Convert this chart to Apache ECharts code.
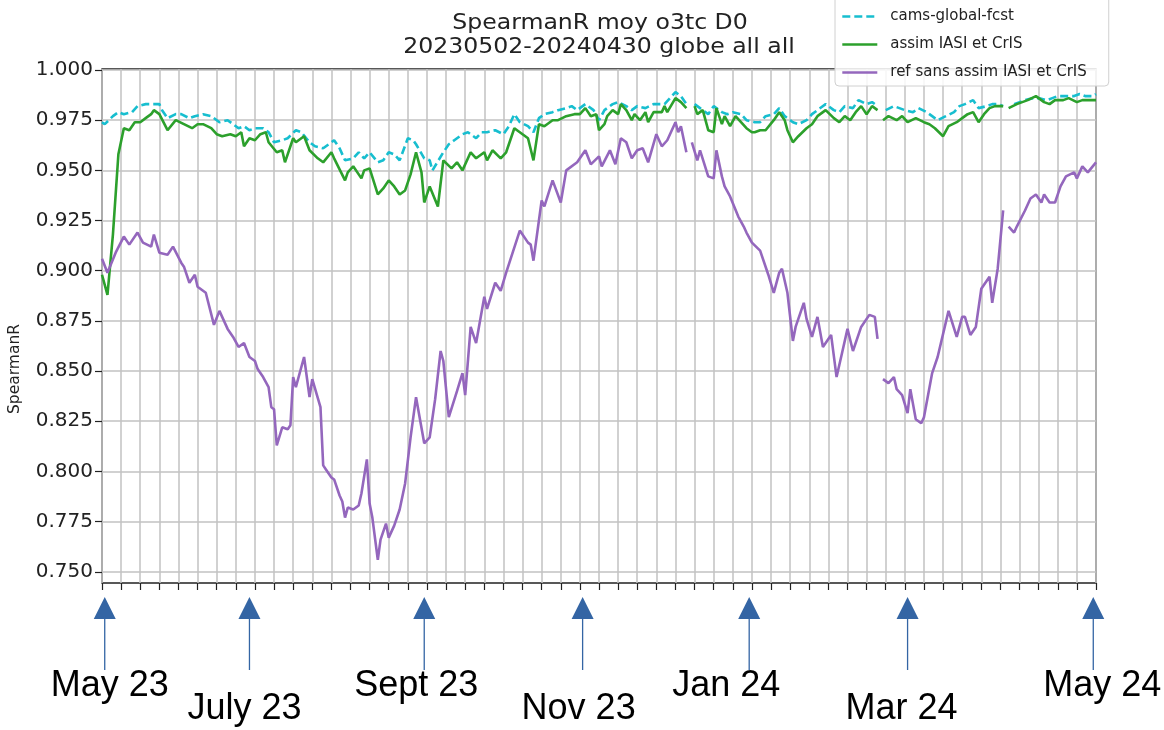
<!DOCTYPE html>
<html>
<head>
<meta charset="utf-8">
<script src="https://cdn.jsdelivr.net/npm/echarts@6/dist/echarts.min.js"></script>
<style>
  html, body { margin: 0; background: #fff; }
  #chart { width: 1164px; height: 730px; }
</style>
</head>
<body>
<div id="chart"></div>
<script>
// x = days since 2023-05-02 (0 .. 364 = 2024-04-30), null = missing day
const camsDays = [0,1,4,6,8,11,13,16,18,21,22,24,27,29,32,34,37,40,43,46,48,50,52,54,56,59,61,63,66,68,71,73,76,78,81,83,85,87,89,92,94,96,98,101,103,105,107,109,112,114,115,118,120,121,125,127,129,132,134,137,139,141,144,147,149,151,153,156,158,160,162,165,167,170,172,174,177,180,182,184,187,189,192,194,196,199,202,204,206,208,210,212,214,215,217,219,222,224,227,229,231,234,236,239,241,243,246,248,250,253,255,258,260,262,265,268,270,272,275,277,280,282,284,285,287,290,292,294,297,299,302,304,306,309,312,314,316,319,321,324,326,328,330,331,334,336,338,341,343,346,348,350,353,356,358,360,363,364]
const camsVals = [0.974,0.973,0.977,0.979,0.978,0.979,0.982,0.983,0.983,0.983,0.980,0.976,0.978,0.978,0.976,0.977,0.978,0.977,0.974,0.975,0.973,0.971,0.972,0.970,0.971,0.971,0.969,0.964,0.965,0.966,0.970,0.969,0.964,0.962,0.961,0.963,0.965,0.961,0.955,0.956,0.959,0.956,0.959,0.954,0.955,0.959,0.958,0.955,0.966,0.965,0.963,0.956,0.955,0.950,0.959,0.963,0.965,0.968,0.969,0.966,0.969,0.969,0.970,0.968,0.972,0.978,0.974,0.972,0.969,0.976,0.978,0.979,0.980,0.981,0.982,0.980,0.983,0.980,0.975,0.980,0.983,0.984,0.982,0.980,0.982,0.981,0.983,0.983,0.983,0.986,0.989,0.987,0.983,null,0.983,0.981,0.978,0.982,0.979,0.978,0.979,0.978,0.975,0.974,0.974,0.977,0.978,0.981,0.977,0.974,0.973,0.975,0.978,0.980,0.983,0.980,0.979,0.982,0.981,0.985,0.983,0.984,0.982,null,0.980,0.982,0.981,0.980,0.979,0.981,0.979,0.977,0.975,0.977,0.979,0.982,0.983,0.985,0.981,0.982,0.983,0.983,0.982,null,0.983,0.984,0.985,0.986,0.986,0.985,0.986,0.987,0.987,0.987,0.988,0.987,0.987,0.988]

const assimDays = [0,2,4,6,8,10,12,14,16,18,19,21,24,27,30,33,35,37,40,42,44,47,49,51,52,54,56,58,60,61,64,66,67,70,71,74,76,79,81,84,85,89,90,92,95,96,98,101,103,105,107,109,111,113,115,117,118,120,123,125,128,130,132,135,137,140,141,143,146,148,151,154,156,158,160,162,165,167,170,173,175,177,179,181,182,184,185,187,189,190,192,194,195,197,199,200,202,205,206,207,210,212,214,215,217,218,220,222,224,225,227,228,230,232,234,236,238,239,241,243,246,248,250,251,253,255,258,260,262,265,268,270,272,274,276,278,280,282,284,285,286,288,291,293,295,298,301,303,305,308,310,313,315,317,319,321,323,325,327,330,331,332,335,337,339,342,345,347,349,352,354,357,359,361,364]
const assimVals = [0.898,0.888,0.918,0.958,0.971,0.970,0.974,0.974,0.976,0.978,0.980,0.978,0.970,0.975,0.973,0.971,0.973,0.973,0.971,0.968,0.967,0.968,0.967,0.969,0.962,0.966,0.965,0.968,0.969,0.964,0.959,0.960,0.954,0.966,0.964,0.967,0.960,0.956,0.954,0.959,0.956,0.945,0.949,0.952,0.946,0.950,0.951,0.938,0.941,0.945,0.942,0.938,0.940,0.948,0.959,0.949,0.934,0.942,0.932,0.955,0.951,0.954,0.950,0.959,0.956,0.959,0.955,0.960,0.956,0.959,0.971,0.968,0.966,0.955,0.973,0.972,0.975,0.975,0.977,0.978,0.978,0.981,0.977,0.978,0.970,0.973,0.977,0.980,0.978,0.983,0.980,0.975,0.978,0.975,0.979,0.974,0.979,0.979,0.982,0.979,0.986,0.984,0.981,null,0.982,0.978,0.980,0.970,0.969,0.981,0.973,0.977,0.972,0.977,0.974,0.971,0.969,0.969,0.970,0.970,0.975,0.979,0.975,0.970,0.964,0.967,0.971,0.973,0.977,0.980,0.976,0.974,0.977,0.975,0.979,0.982,0.978,0.982,0.980,null,0.975,0.977,0.975,0.977,0.974,0.976,0.974,0.973,0.971,0.967,0.972,0.974,0.976,0.978,0.979,0.974,0.978,0.981,0.982,0.982,null,0.981,0.983,0.984,0.985,0.987,0.984,0.983,0.985,0.985,0.986,0.984,0.985,0.985,0.985]

const refDays = [0,2,5,8,10,13,15,18,19,21,24,26,29,30,32,34,35,38,41,43,46,48,50,52,54,56,57,59,61,62,63,64,66,68,69,70,71,74,76,77,80,81,82,84,85,87,88,89,90,92,94,95,97,98,99,101,102,104,105,107,109,111,113,115,118,120,122,124,125,127,130,132,133,135,137,140,141,144,146,148,153,156,157,158,161,162,165,168,170,174,177,179,182,183,186,188,190,192,194,196,198,200,203,205,207,210,211,212,214,215,216,218,219,222,224,225,227,228,230,233,235,236,238,241,244,246,248,249,251,253,254,257,258,260,262,264,267,269,271,273,275,278,281,283,284,285,286,288,290,291,293,295,296,298,300,301,304,306,310,313,315,316,318,320,322,325,326,328,330,331,332,334,335,338,340,342,344,345,347,349,351,353,356,357,359,361,364]
const refVals = [0.906,0.899,0.909,0.917,0.913,0.919,0.914,0.912,0.918,0.909,0.908,0.912,0.904,0.902,0.894,0.898,0.892,0.889,0.873,0.880,0.871,0.867,0.862,0.864,0.857,0.855,0.851,0.847,0.842,0.832,0.831,0.813,0.822,0.821,0.823,0.847,0.842,0.857,0.837,0.846,0.832,0.803,0.801,0.797,0.796,0.788,0.785,0.777,0.782,0.781,0.783,0.789,0.806,0.784,0.777,0.756,0.766,0.774,0.767,0.773,0.781,0.794,0.817,0.837,0.814,0.817,0.836,0.860,0.855,0.827,0.840,0.849,0.838,0.872,0.864,0.887,0.881,0.894,0.890,0.899,0.920,0.914,0.913,0.905,0.935,0.932,0.945,0.934,0.950,0.954,0.960,0.953,0.957,0.952,0.960,0.953,0.966,0.964,0.956,0.960,0.961,0.954,0.968,0.962,0.965,0.974,0.969,0.972,0.959,null,0.964,0.955,0.960,0.947,0.946,0.960,0.947,0.942,0.937,0.927,0.922,0.919,0.914,0.910,0.898,0.889,0.899,0.901,0.889,0.865,0.872,0.884,0.876,0.867,0.877,0.862,0.868,0.847,0.859,0.871,0.860,0.872,0.878,0.877,0.866,null,0.846,0.844,0.847,0.841,0.838,0.829,0.841,0.826,0.824,0.827,0.849,0.857,0.880,0.867,0.877,0.877,0.868,0.872,0.891,0.897,0.884,0.901,0.930,null,0.922,0.919,0.922,0.930,0.936,0.938,0.934,0.938,0.934,0.934,0.942,0.947,0.949,0.946,0.952,0.949,0.954]

const yTicks = [0.75, 0.775, 0.8, 0.825, 0.85, 0.875, 0.9, 0.925, 0.95, 0.975, 1.0]

// month annotations under the axis (day the arrow points at)
const monthLabels = ['May 23', 'July 23', 'Sept 23', 'Nov 23', 'Jan 24', 'Mar 24', 'May 24']
const monthDays = [1, 54, 118, 176, 237, 295, 363]

const seriesNames = ['cams-global-fcst', 'assim IASI et CrIS', 'ref sans assim IASI et CrIS']

function pairs(days, vals) {
  return days.map((d, i) => [d, vals[i]])
}

const chart = echarts.init(document.getElementById('chart'))

chart.setOption({
  animation: false,
  backgroundColor: '#fff',
  textStyle: { fontFamily: 'DejaVu Sans' },
  grid: {
    left: 102,
    right: 68,
    top: 69,
    bottom: 147,
    show: true,
    borderColor: '#222',
    borderWidth: 1.3
  },
  legend: {
    orient: 'vertical',
    left: 835,
    top: -12,
    padding: [21, 22, 6, 6],
    itemGap: 13,
    itemWidth: 35,
    itemHeight: 16,
    backgroundColor: 'rgba(255,255,255,0.85)',
    borderColor: '#d0d0d0',
    borderWidth: 1,
    borderRadius: 4,
    itemStyle: { opacity: 0 },
    lineStyle: { width: 2.6 },
    textStyle: { fontSize: 15, color: '#222', padding: [0, 0, 0, 8] },
    data: seriesNames
  },
  xAxis: {
    type: 'value',
    min: 0,
    max: 364,
    interval: 7,
    axisLine: { show: false },
    axisLabel: { show: false },
    axisTick: { show: true, length: 7, lineStyle: { color: '#222', width: 1.2 } },
    splitLine: { show: true, lineStyle: { color: '#c2c2c2', width: 1.5 } }
  },
  yAxis: {
    type: 'value',
    min: 0.7444,
    max: 1.0005,
    axisLine: { show: false },
    axisLabel: {
      customValues: yTicks,
      formatter: v => v.toFixed(3),
      fontSize: 20,
      color: '#222',
      margin: 9
    },
    axisTick: { show: true, customValues: yTicks, length: 7, lineStyle: { color: '#222', width: 1.2 } },
    splitLine: { show: true, lineStyle: { color: '#c2c2c2', width: 1.5 } }
  },
  series: [
    {
      name: seriesNames[0],
      type: 'line',
      symbol: 'none',
      connectNulls: false,
      color: '#17becf',
      lineStyle: { color: '#17becf', width: 2.6, type: [8, 4] },
      data: pairs(camsDays, camsVals)
    },
    {
      name: seriesNames[1],
      type: 'line',
      symbol: 'none',
      connectNulls: false,
      color: '#2ca02c',
      lineStyle: { color: '#2ca02c', width: 2.6 },
      data: pairs(assimDays, assimVals)
    },
    {
      name: seriesNames[2],
      type: 'line',
      symbol: 'none',
      connectNulls: false,
      color: '#9467bd',
      lineStyle: { color: '#9467bd', width: 2.6 },
      data: pairs(refDays, refVals)
    }
  ]
})

// title, y name and the month arrows
const blue = '#3465a4'
const labelShift = [5, -5, -8, -4, -23, -6, 9]
const graphics = [
  {
    type: 'text', x: 600, y: 24, scaleX: 1.15,
    style: { text: 'SpearmanR moy o3tc D0', font: '20.5px "DejaVu Sans"', fill: '#222', align: 'center', verticalAlign: 'middle' }
  },
  {
    type: 'text', x: 599, y: 48, scaleX: 1.15,
    style: { text: '20230502-20240430 globe all all', font: '20.5px "DejaVu Sans"', fill: '#222', align: 'center', verticalAlign: 'middle' }
  },
  {
    type: 'text', x: 15, y: 369, rotation: Math.PI / 2,
    style: { text: 'SpearmanR', font: '15.5px "DejaVu Sans"', fill: '#222', align: 'center', verticalAlign: 'middle' }
  }
]

monthDays.forEach((d, i) => {
  const x = chart.convertToPixel({ xAxisIndex: 0 }, d)
  graphics.push({
    type: 'polygon',
    shape: { points: [[x, 597], [x - 11, 619], [x + 11, 619]] },
    style: { fill: blue }
  })
  graphics.push({
    type: 'line',
    shape: { x1: x, y1: 619, x2: x, y2: 670 },
    style: { stroke: blue, lineWidth: 1.3 }
  })
  graphics.push({
    type: 'text',
    x: x + labelShift[i],
    y: i % 2 === 0 ? 686 : 709,
    style: { text: monthLabels[i], font: '36px "Liberation Sans"', fill: '#000', align: 'center', verticalAlign: 'middle' }
  })
})

chart.setOption({ graphic: graphics })
</script>
</body>
</html>
